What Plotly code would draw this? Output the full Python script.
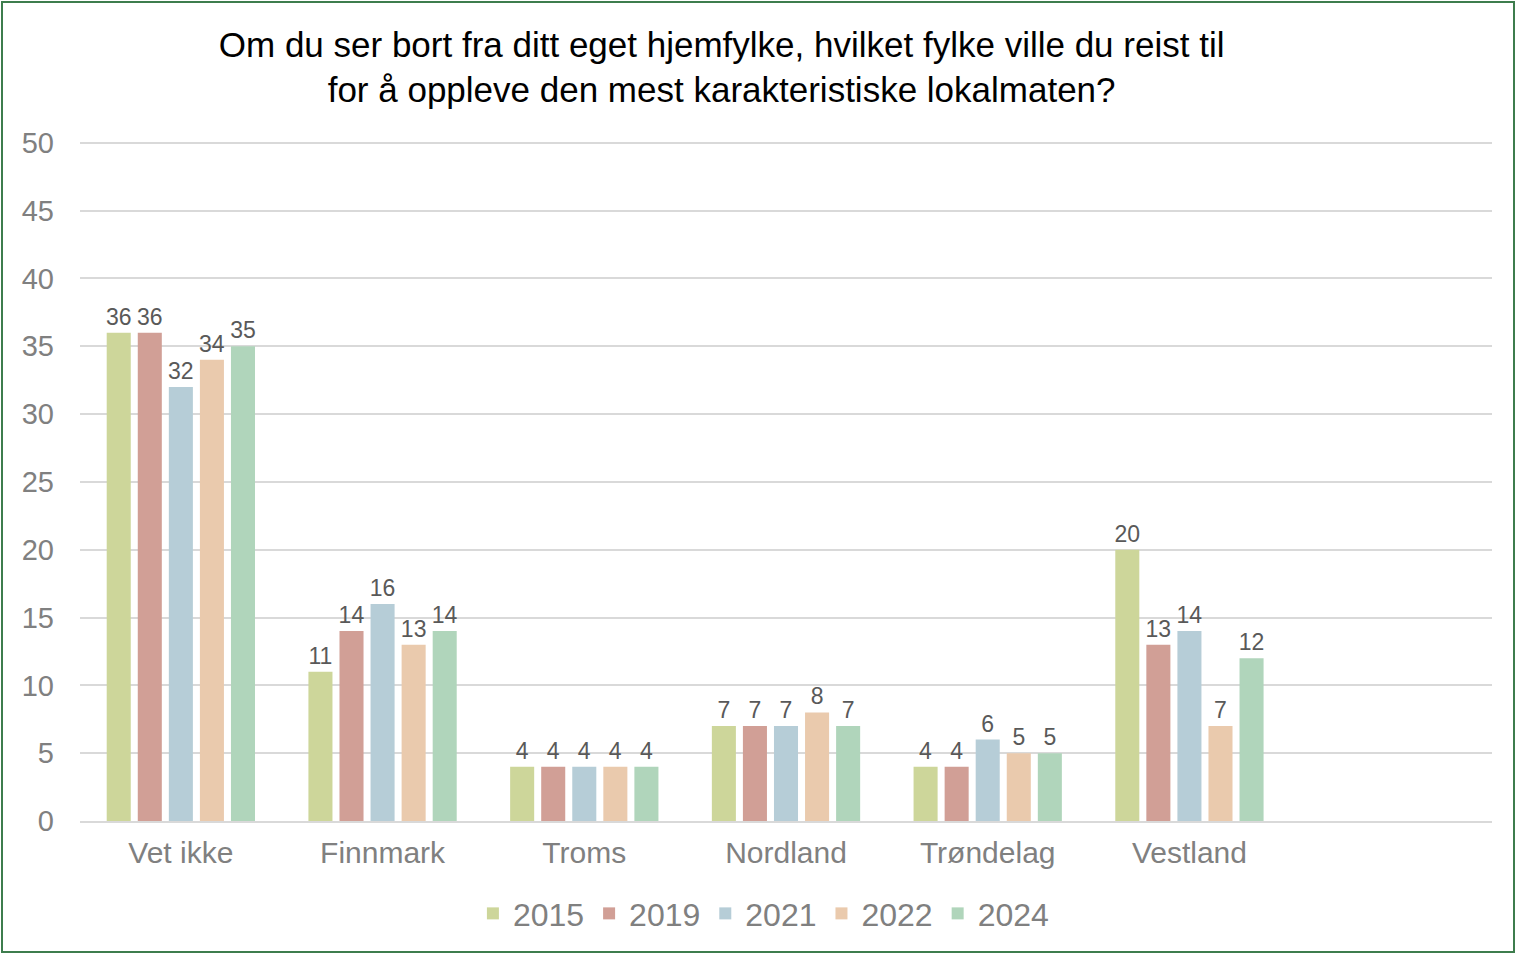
import plotly.graph_objects as go

categories = ["Vet ikke", "Finnmark", "Troms", "Nordland", "Trøndelag", "Vestland"]
years = ["2015", "2019", "2021", "2022", "2024"]
v2015 = [36, 11, 4, 7, 4, 20]
v2019 = [36, 14, 4, 7, 4, 13]
v2021 = [32, 16, 4, 7, 6, 14]
v2022 = [34, 13, 4, 8, 5, 7]
v2024 = [35, 14, 4, 7, 5, 12]
series = [v2015, v2019, v2021, v2022, v2024]
colors = ["#CDD69A", "#D19F96", "#B6CDD7", "#EACAAD", "#B0D5BB"]

FONT = "Liberation Sans, Arial, sans-serif"

fig = go.Figure()
xs = list(range(len(categories)))
for name, vals, col in zip(years, series, colors):
    fig.add_trace(go.Bar(
        x=xs, y=vals, name=name, marker=dict(color=col, line=dict(width=0)),
        text=[str(v) for v in vals], textposition="outside",
        textfont=dict(size=23, color="#595959", family=FONT),
        constraintext="none", cliponaxis=False,
    ))

fig.update_layout(
    width=1516, height=954,
    paper_bgcolor="white", plot_bgcolor="white",
    margin=dict(l=80, r=24, t=136, b=133),
    barmode="group", bargap=0.23, bargroupgap=0.226,
    title=dict(
        text="Om du ser bort fra ditt eget hjemfylke, hvilket fylke ville du reist til<br>for å oppleve den mest karakteristiske lokalmaten?",
        x=0.476, xanchor="center", y=0.9405, yanchor="middle",
        font=dict(size=35, color="#000000", family=FONT),
    ),
    xaxis=dict(
        range=[-0.5, 6.5], tickmode="array", tickvals=xs, ticktext=categories,
        showgrid=False, showline=True, linecolor="#D9D9D9", linewidth=2,
        ticks="", tickfont=dict(size=30, color="#808080", family=FONT),
        zeroline=False, ticklabelstandoff=4,
    ),
    yaxis=dict(
        range=[0, 50.5], tickmode="array", tickvals=[0, 5, 10, 15, 20, 25, 30, 35, 40, 45, 50],
        showgrid=True, gridcolor="#D9D9D9", gridwidth=1.5,
        zeroline=False, showline=False, ticks="",
        tickfont=dict(size=29, color="#808080", family=FONT),
        ticklabelstandoff=25,
    ),
    legend=dict(
        orientation="h", x=0.484, xanchor="center", y=-0.095, yanchor="top",
        font=dict(size=32, color="#808080", family=FONT),
        itemwidth=30, traceorder="normal", tracegroupgap=0,
    ),
    showlegend=True,
)
fig.add_shape(type="rect", xref="paper", yref="paper",
              x0=-78/1412, x1=1+22/1412, y0=-131/685, y1=1+134/685,
              line=dict(color="#3D7D4D", width=2))

fig.write_html("out.html", config={"displayModeBar": False},
               post_script="document.body.style.margin='0';")
